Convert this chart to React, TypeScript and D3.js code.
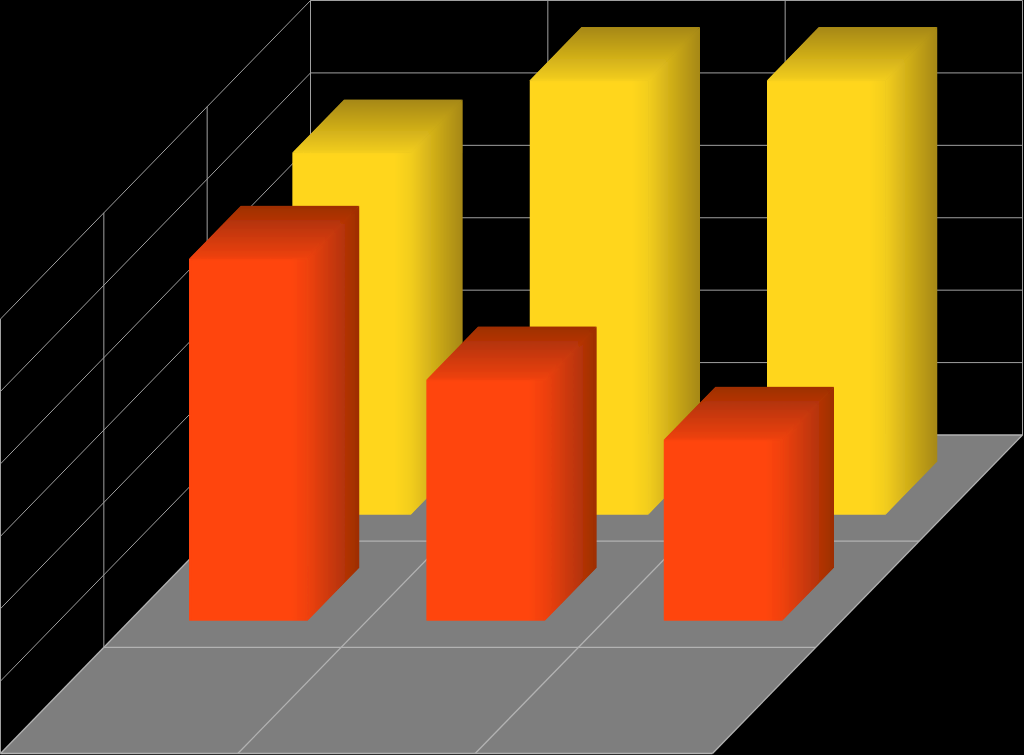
import React, { useEffect, useRef } from 'react';
import * as d3 from 'd3';

const categories = ['Category 1', 'Category 2', 'Category 3'];
const depthRows = ['Series 1', 'Series 2', 'Series 3'];
const valueTicks = [0, 1, 2, 3, 4, 5, 6];

// rows run back to front, the front row of the grid holds no bars
const yellowValues = [5, 6, 6];
const orangeValues = [5, 3.33, 2.5];

const App: React.FC = () => {
  const svgRef = useRef<SVGSVGElement>(null);

  useEffect(() => {
    if (!svgRef.current) return;
    document.body.style.margin = '0';
    document.body.style.background = '#000';

    const width = 1024;
    const height = 755;

    const svg = d3.select(svgRef.current);
    svg.selectAll('*').remove(); // Clear previous render

    // Scales
    const catScale = d3.scaleLinear().domain([0, categories.length]).range([310.5, 1022.5]);
    const valueScale = d3.scaleLinear().domain([0, 6]).range([435, 0.5]);
    const depthX = d3.scaleLinear().domain([0, depthRows.length]).range([0, -310]);
    const depthY = d3.scaleLinear().domain([0, depthRows.length]).range([0, 318.5]);

    const project = (cat: number, value: number, depth: number): [number, number] => [
      catScale(cat) + depthX(depth),
      valueScale(value) + depthY(depth),
    ];
    const poly = (pts: [number, number][]) => (d3.line()(pts) || '') + 'Z';

    const maxVal = valueTicks[valueTicks.length - 1];
    const nCat = categories.length;
    const nDepth = depthRows.length;

    svg.append('rect').attr('width', width).attr('height', height).attr('fill', '#000');

    // Gradients for the shaded faces
    const defs = svg.append('defs');
    const shaded = [
      { id: 'yellow', front: '#ffd61f', edge: '#f2cd1e', dark: '#a58712' },
      { id: 'orange', front: '#ff450a', edge: '#ef410a', dark: '#9c2e05' },
    ];
    shaded.forEach((c) => {
      const side = defs.append('linearGradient').attr('id', `${c.id}-side`)
        .attr('x1', 0).attr('x2', 1).attr('y1', 0).attr('y2', 0);
      side.append('stop').attr('offset', 0).attr('stop-color', c.edge);
      side.append('stop').attr('offset', 1).attr('stop-color', c.dark);

      const top = defs.append('linearGradient').attr('id', `${c.id}-top`)
        .attr('x1', 0).attr('x2', 0).attr('y1', 1).attr('y2', 0);
      top.append('stop').attr('offset', 0).attr('stop-color', c.edge);
      top.append('stop').attr('offset', 1).attr('stop-color', c.dark);

      const face = defs.append('linearGradient').attr('id', `${c.id}-front`)
        .attr('x1', 0).attr('x2', 1).attr('y1', 0).attr('y2', 0);
      face.append('stop').attr('offset', 0.86).attr('stop-color', c.front);
      face.append('stop').attr('offset', 1).attr('stop-color', c.edge);
    });
    defs.append('filter').attr('id', 'soft')
      .attr('x', '-5%').attr('y', '-5%').attr('width', '110%').attr('height', '110%')
      .append('feGaussianBlur').attr('stdDeviation', 1.6);

    // Floor
    svg.append('path')
      .attr('d', poly([project(0, 0, 0), project(nCat, 0, 0), project(nCat, 0, nDepth), project(0, 0, nDepth)]))
      .attr('fill', '#7e7e7e');

    // Grid
    const grid = svg.append('g').attr('fill', 'none');
    const segment = (a: [number, number], b: [number, number], floor = false) =>
      grid.append('path')
        .attr('d', d3.line()([a, b]))
        .attr('stroke', floor ? '#b2b2b2' : '#a0a0a0')
        .attr('stroke-width', floor ? 1.3 : 1);

    valueTicks.filter((v) => v > 0).forEach((v) => {
      segment(project(0, v, 0), project(nCat, v, 0));
      segment(project(0, v, 0), project(0, v, nDepth));
    });
    d3.range(nCat + 1).forEach((c) => {
      segment(project(c, 0, 0), project(c, maxVal, 0));
      segment(project(c, 0, 0), project(c, 0, nDepth), true);
    });
    d3.range(nDepth + 1).forEach((d) => {
      segment(project(0, 0, d), project(0, maxVal, d));
      segment(project(0, 0, d), project(nCat, 0, d), true);
    });

    // Bars, back row first
    const drawRow = (values: number[], row: number, id: string) => {
      values.forEach((value, i) => {
        const x0 = i + 0.25;
        const x1 = i + 0.75;
        const d0 = row + 0.75; // nearest face
        const d1 = row + 0.25;
        const sidePath = poly([project(x1, 0, d0), project(x1, 0, d1), project(x1, value, d1), project(x1, value, d0)]);
        const topPath = poly([project(x0, value, d0), project(x1, value, d0), project(x1, value, d1), project(x0, value, d1)]);
        const frontPath = poly([project(x0, 0, d0), project(x1, 0, d0), project(x1, value, d0), project(x0, value, d0)]);
        const outline = poly([
          project(x0, 0, d0), project(x1, 0, d0), project(x1, 0, d1),
          project(x1, value, d1), project(x0, value, d1), project(x0, value, d0),
        ]);

        const clipId = `bar-${id}-${i}`;
        defs.append('clipPath').attr('id', clipId).append('path').attr('d', outline);

        const g = svg.append('g').attr('clip-path', `url(#${clipId})`);
        const faces = (target: d3.Selection<SVGGElement, unknown, null, undefined>) => {
          target.append('path').attr('d', sidePath).attr('fill', `url(#${id}-side)`);
          target.append('path').attr('d', topPath).attr('fill', `url(#${id}-top)`);
          target.append('path').attr('d', frontPath).attr('fill', `url(#${id}-front)`);
        };
        // sharp copy underneath keeps the outer edge solid, blurred copy melts the seams
        faces(g.append('g') as any);
        faces(g.append('g').attr('filter', 'url(#soft)') as any);
      });
    };
    drawRow(yellowValues, 0, 'yellow');
    drawRow(orangeValues, 1, 'orange');
  }, []);

  return (
    <svg
      ref={svgRef}
      width={1024}
      height={755}
      viewBox="0 0 1024 755"
      style={{ position: 'fixed', left: 0, top: 0, display: 'block' }}
    />
  );
};

export default App;
